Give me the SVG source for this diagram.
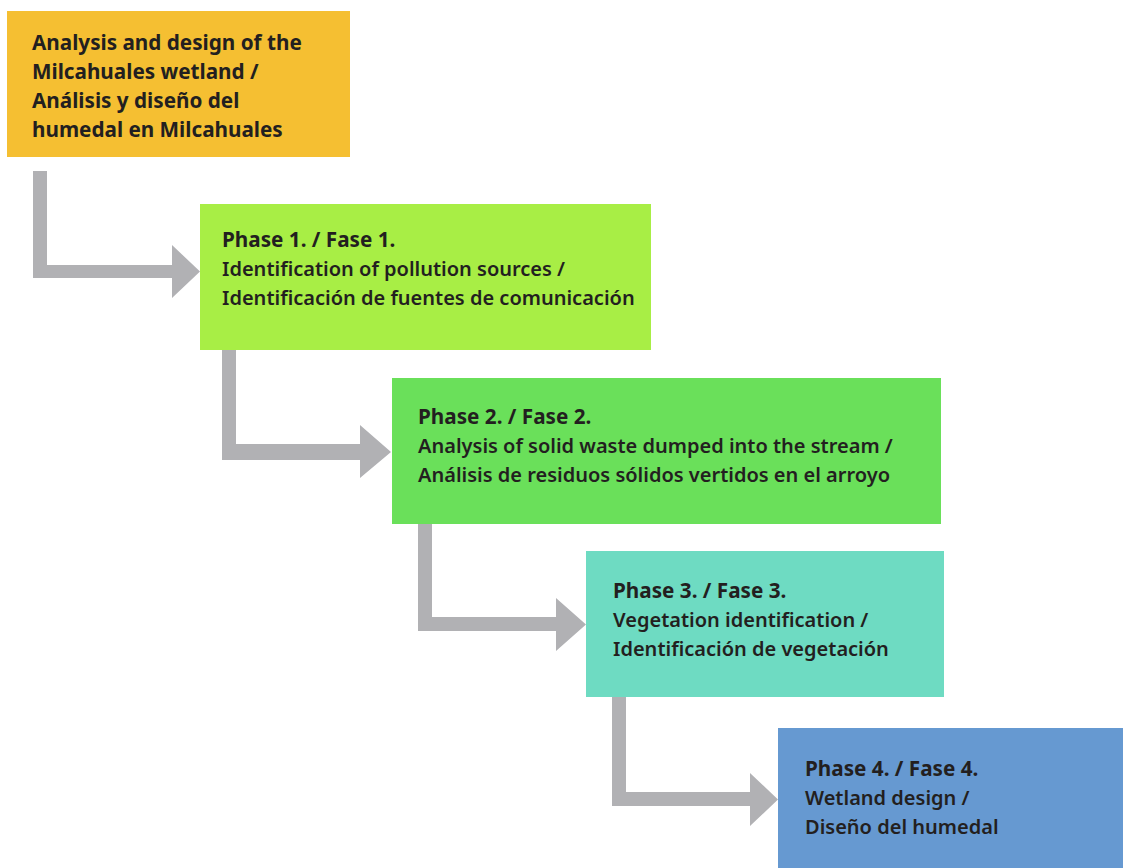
<svg xmlns="http://www.w3.org/2000/svg" width="1123" height="868" viewBox="0 0 1123 868">
<style>
text{font-family:"Noto Sans","Open Sans",sans-serif;font-size:20px;fill:#231F20;font-weight:600}
.b{font-weight:700;font-size:20.7px}
.conn{fill:#B1B1B4}
</style>
<rect width="1123" height="868" fill="#FFFFFF"/>
<g id="connectors">
<path class="conn" d="M33,171 H47 V265 H172 V245 L200,271.5 L172,298 V278 H33 Z"/>
<path class="conn" d="M222,350 H236 V444 H360 V425 L391,452 L360,478 V460 H222 Z"/>
<path class="conn" d="M418,524 H432 V617 H556 V598 L586,624.5 L556,651 V631 H418 Z"/>
<path class="conn" d="M612,697 H626 V792 H750 V773 L778,799.5 L750,826 V806 H612 Z"/>
</g>
<g id="node0">
<rect x="7" y="11" width="343" height="146" fill="#F5BF32"/>
<text class="b" x="32" y="50">Analysis and design of the</text>
<text class="b" x="32" y="79">Milcahuales wetland  /</text>
<text class="b" x="32" y="108">Análisis y diseño del</text>
<text class="b" x="32" y="137">humedal en Milcahuales</text>
</g>
<g id="node1">
<rect x="200" y="204" width="451" height="146" fill="#A8EE45"/>
<text class="b" x="222" y="247">Phase 1. / Fase 1.</text>
<text x="222" y="276">Identification of pollution sources /</text>
<text x="222" y="305">Identificación de fuentes de comunicación</text>
</g>
<g id="node2">
<rect x="392" y="378" width="549" height="146" fill="#6AE05A"/>
<text class="b" x="418" y="424">Phase 2. / Fase 2.</text>
<text x="418" y="453">Analysis of solid waste dumped into the stream /</text>
<text x="418" y="482">Análisis de residuos sólidos vertidos en el arroyo</text>
</g>
<g id="node3">
<rect x="586" y="551" width="358" height="146" fill="#6EDBC2"/>
<text class="b" x="613" y="598">Phase 3. / Fase 3.</text>
<text x="613" y="627">Vegetation identification /</text>
<text x="613" y="656">Identificación de vegetación</text>
</g>
<g id="node4">
<rect x="778" y="728" width="345" height="140" fill="#6699D1"/>
<text class="b" x="805" y="776">Phase 4. / Fase 4.</text>
<text x="805" y="805">Wetland design /</text>
<text x="805" y="834">Diseño del humedal</text>
</g>
</svg>
